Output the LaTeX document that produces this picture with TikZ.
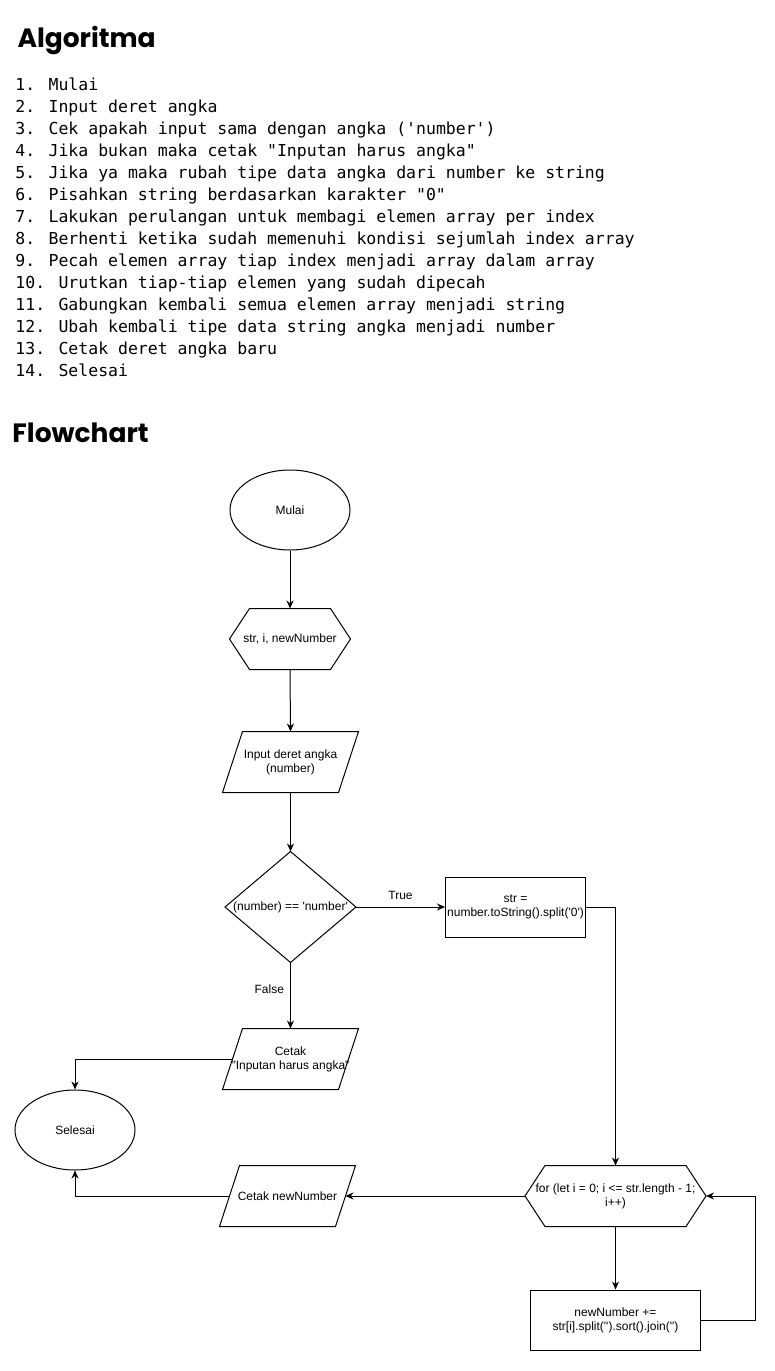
\documentclass[tikz,border=0pt]{standalone}
\usepackage{fontspec}
\setmainfont{Liberation Sans}
\newfontfamily\monof{DejaVu Sans Mono}
\newfontfamily\titlef{Poppins}
\usetikzlibrary{shapes.geometric,arrows.meta}
\begin{document}
\begin{tikzpicture}[x=1pt,y=-1pt,
  line width=1pt,
  arr/.style={-{Stealth[length=8pt,width=7pt]}},
  lbl/.style={font=\fontsize{12}{14}\selectfont, align=center, inner sep=0pt},
  shp/.style={lbl, draw=none, minimum width=#1, minimum height=60pt},
  algo/.style={font=\monof\fontsize{16.5}{22}\selectfont, anchor=base west, inner sep=0pt},
  ttl/.style={font=\titlef\bfseries\fontsize{26.5}{30}\selectfont, anchor=base west, inner sep=0pt},
  term/.style={lbl, draw, ellipse, minimum width=120pt, minimum height=80pt}
]
\useasboundingbox (0,0) rectangle (775,1371);
\fill[white] (0,0) rectangle (775,1371);

% Titles
\node[ttl] (t1) at (17,47) {Algoritma};
\node[ttl] (t2) at (12,442) {Flowchart};

% Algorithm lines
\node[algo] (a1) at (15,90) {1. Mulai};
\node[algo] (a2) at (15,112) {2. Input deret angka};
\node[algo] (a3) at (15,134) {3. Cek apakah input sama dengan angka (\textquotesingle number\textquotesingle)};
\node[algo] (a4) at (15,156) {4. Jika bukan maka cetak "Inputan harus angka"};
\node[algo] (a5) at (15,178) {5. Jika ya maka rubah tipe data angka dari number ke string};
\node[algo] (a6) at (15,200) {6. Pisahkan string berdasarkan karakter "0"};
\node[algo] (a7) at (15,222) {7. Lakukan perulangan untuk membagi elemen array per index};
\node[algo] (a8) at (15,244) {8. Berhenti ketika sudah memenuhi kondisi sejumlah index array};
\node[algo] (a9) at (15,266) {9. Pecah elemen array tiap index menjadi array dalam array};
\node[algo] (a10) at (15,288) {10. Urutkan tiap-tiap elemen yang sudah dipecah};
\node[algo] (a11) at (15,310) {11. Gabungkan kembali semua elemen array menjadi string};
\node[algo] (a12) at (15,332) {12. Ubah kembali tipe data string angka menjadi number};
\node[algo] (a13) at (15,354) {13. Cetak deret angka baru};
\node[algo] (a14) at (15,376) {14. Selesai};

% Flowchart nodes
\node[term] (mulai) at (290,510) {Mulai};

\node[shp=120pt] (vars) at (290,639) {str, i, newNumber};
\draw (vars.west) -- ([xshift=20pt]vars.north west) -- ([xshift=-20pt]vars.north east)
  -- (vars.east) -- ([xshift=-20pt]vars.south east) -- ([xshift=20pt]vars.south west) -- cycle;

\node[shp=135pt] (inp) at (290.5,762) {Input deret angka\\(number)};
\draw ([xshift=20pt]inp.north west) -- (inp.north east) -- ([xshift=-20pt]inp.south east)
  -- (inp.south west) -- cycle;

\node[lbl, minimum width=130pt, minimum height=110pt] (dec) at (290.5,907) {(number) == \textquotesingle number\textquotesingle};
\draw (dec.west) -- (dec.north) -- (dec.east) -- (dec.south) -- cycle;

\node[shp=140pt, draw] (split) at (515.5,907) {str =\\number.toString().split(\textquotesingle 0\textquotesingle)};

\node[shp=135pt] (err) at (290.5,1059) {Cetak\\"Inputan harus angka"};
\draw ([xshift=20pt]err.north west) -- (err.north east) -- ([xshift=-20pt]err.south east)
  -- (err.south west) -- cycle;

\node[term] (selesai) at (75,1130) {Selesai};

\node[shp=135pt] (out) at (287.5,1196) {Cetak newNumber};
\draw ([xshift=20pt]out.north west) -- (out.north east) -- ([xshift=-20pt]out.south east)
  -- (out.south west) -- cycle;

\node[shp=180pt] (loop) at (615.5,1196) {for (let i = 0; i <= str.length - 1;\\i++)};
\draw (loop.west) -- ([xshift=20pt]loop.north west) -- ([xshift=-20pt]loop.north east)
  -- (loop.east) -- ([xshift=-20pt]loop.south east) -- ([xshift=20pt]loop.south west) -- cycle;

\node[shp=170pt, draw] (body) at (615.5,1320) {newNumber +=\\str[i].split(\textquotesingle\textquotesingle).sort().join(\textquotesingle\textquotesingle)};

\coordinate (lx) at (755,0);

% Connectors
\draw[arr] (mulai.south) -- (vars.north);
\draw[arr] (vars.south) -- (inp.north);
\draw[arr] (inp.south) -- (dec.north);
\draw[arr] (dec.east) -- node[lbl, above=7pt] (ttrue) {True} (split.west);
\draw[arr] (split.east) -| (loop.north);
\draw[arr] (dec.south) -- node[lbl, pos=0.4, left=6pt] (tfalse) {False} (err.north);
\draw[arr] ([xshift=10pt]err.west) -| (selesai.north);
\draw[arr] (loop.west) -- ([xshift=-10pt]out.east);
\draw[arr] ([xshift=10pt]out.west) -| (selesai.south);
\draw[arr] (loop.south) -- (body.north);
\draw[arr] (body.east) -- (body.east -| lx) -- (loop.east -| lx) -- (loop.east);
\end{tikzpicture}
\end{document}
